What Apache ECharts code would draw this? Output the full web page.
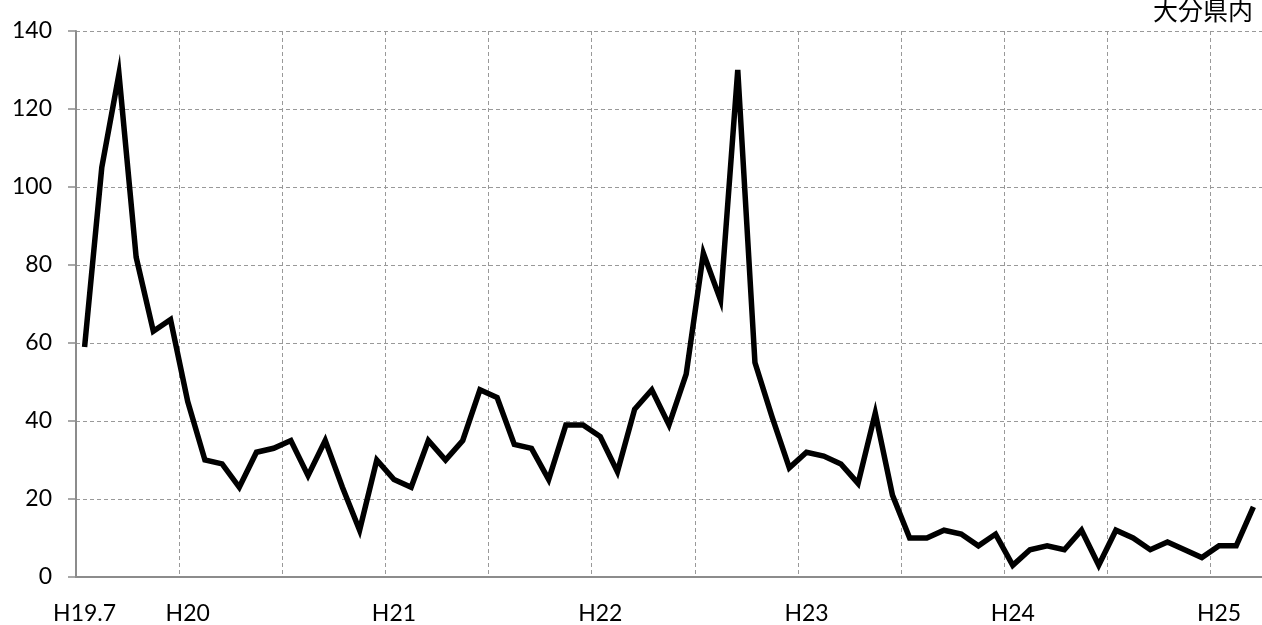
<!DOCTYPE html>
<html>
<head>
<meta charset="utf-8">
<script src="https://cdn.jsdelivr.net/npm/echarts@6/dist/echarts.min.js"></script>
<style>
  html, body { margin: 0; padding: 0; background: #fff; }
  #echarts { width: 1262px; height: 625px; }
</style>
</head>
<body>
<div id="echarts"></div>
<script>
// monthly counts, H19.7 .. H25.3
var counts = [
    59, 105, 129, 82, 63, 66, 45, 30, 29, 23, 32, 33,
    35, 26, 35, 23, 12, 30, 25, 23, 35, 30, 35, 48,
    46, 34, 33, 25, 39, 39, 36, 27, 43, 48, 39, 52,
    83, 71, 130, 55, 41, 28, 32, 31, 29, 24, 42, 21,
    10, 10, 12, 11, 8, 11, 3, 7, 8, 7, 12, 3,
    12, 10, 7, 9, 7, 5, 8, 8, 18
];
var tickLabels = ['H19.7', 'H20', 'H21', 'H22', 'H23', 'H24', 'H25'];
var yTicks = [0, 20, 40, 60, 80, 100, 120, 140];

// category names: one per month starting at H19.7
var months = [];
for (var i = 0; i < counts.length; i++) {
    var m = 7 + i;
    var y = 19 + Math.floor((m - 1) / 12);
    var mm = (m - 1) % 12 + 1;
    months.push(mm === 1 ? 'H' + y : 'H' + y + '.' + mm);
}

var chartDom = document.getElementById('echarts');
var myChart = echarts.init(chartDom);
var gray = '#8c8c8c';
var font = 'Lato, "Noto Sans", sans-serif';

var option = {
    animation: false,
    title: {
        text: '大分県内',
        right: 4,
        top: -7,
        textStyle: {
            fontFamily: '"Noto Sans CJK JP", sans-serif',
            fontSize: 25,
            fontWeight: 'normal',
            color: '#000'
        }
    },
    grid: {
        left: 76,
        right: 0,
        top: 31,
        bottom: 44
    },
    xAxis: {
        type: 'category',
        data: months,
        boundaryGap: true,
        axisLine: { lineStyle: { color: gray, width: 2 } },
        axisTick: {
            interval: 5,
            length: 8,
            lineStyle: { color: gray, width: 1.5 }
        },
        axisLabel: {
            interval: function (idx, val) {
                return tickLabels.indexOf(val) >= 0;
            },
            margin: 25,
            fontSize: 23,
            fontFamily: font,
            color: '#000'
        },
        splitLine: {
            show: true,
            interval: 5,
            lineStyle: { color: '#999', type: [4, 3], width: 1 }
        }
    },
    yAxis: {
        type: 'value',
        min: yTicks[0],
        max: yTicks[yTicks.length - 1],
        interval: 20,
        axisLine: { show: true, lineStyle: { color: gray, width: 2 } },
        axisTick: { show: true, length: 8, lineStyle: { color: gray, width: 1.5 } },
        axisLabel: {
            margin: 24,
            fontSize: 23,
            fontFamily: font,
            color: '#000'
        },
        splitLine: {
            lineStyle: { color: '#999', type: [4, 3], width: 1 }
        }
    },
    series: [
        {
            type: 'line',
            data: counts,
            showSymbol: false,
            lineStyle: { color: '#000', width: 5.5, join: 'miter', cap: 'butt' }
        }
    ]
};
myChart.setOption(option);
</script>
</body>
</html>
